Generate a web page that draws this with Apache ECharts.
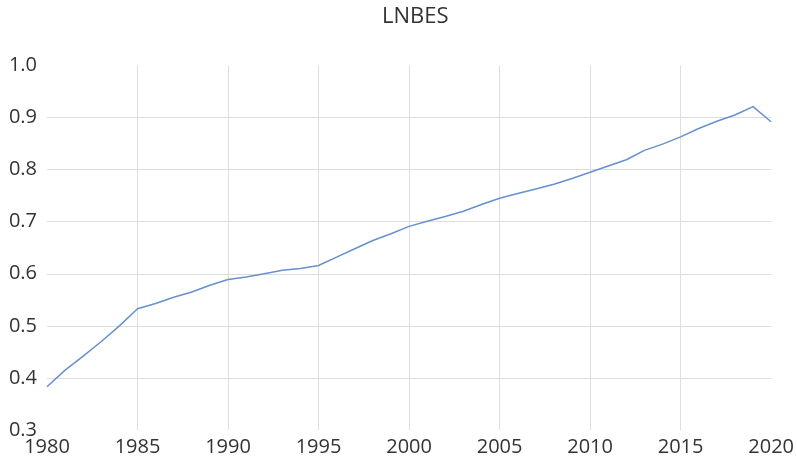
<!DOCTYPE html>
<html>
<head>
<meta charset="utf-8">
<script src="https://cdn.jsdelivr.net/npm/echarts@6/dist/echarts.min.js"></script>
<style>
  html, body { margin: 0; padding: 0; background: #fff; }
  #chart { width: 797px; height: 465px; }
</style>
</head>
<body>
<div id="chart"></div>
<script>
// LNBES, 1980-2020
const years = [];
for (let y = 1980; y <= 2020; y++) years.push(y);
const lnbes = [
  0.383, 0.415, 0.442, 0.470, 0.500, 0.533, 0.543, 0.555, 0.565, 0.578,
  0.589, 0.594, 0.600, 0.607, 0.610, 0.616, 0.632, 0.648, 0.664, 0.677,
  0.691, 0.701, 0.710, 0.720, 0.733, 0.745, 0.754, 0.763, 0.772, 0.783,
  0.795, 0.807, 0.819, 0.837, 0.849, 0.863, 0.879, 0.893, 0.905, 0.921,
  0.892
];

let chart = echarts.init(document.getElementById('chart'));
let option = {
  animation: false,
  title: {
    text: 'LNBES',
    left: 377,
    top: 1,
    textStyle: { fontFamily: 'Open Sans', fontSize: 22, fontWeight: 'normal', color: '#333333' }
  },
  grid: { left: 47, right: 23, top: 65.5, bottom: 35 },
  xAxis: {
    type: 'value',
    min: 1980,
    max: 2020,
    interval: 5,
    axisLine: { show: false },
    axisTick: { show: false },
    axisLabel: {
      fontFamily: 'Open Sans', fontSize: 20, color: '#333333', margin: 7,
      formatter: v => String(v)
    },
    splitLine: { show: true, showMinLine: false, showMaxLine: false, lineStyle: { color: '#dedede', width: 1 } }
  },
  yAxis: {
    type: 'value',
    min: 0.3,
    max: 1.0,
    interval: 0.1,
    axisLine: { show: false },
    axisTick: { show: false },
    axisLabel: {
      fontFamily: 'Open Sans', fontSize: 20, color: '#333333', margin: 10,
      formatter: v => v.toFixed(1)
    },
    splitLine: { showMinLine: false, showMaxLine: false, lineStyle: { color: '#dedede', width: 1 } }
  },
  series: [{
    type: 'line',
    data: years.map((y, i) => [y, lnbes[i]]),
    showSymbol: false,
    lineStyle: { color: '#6790cf', width: 1.5 },
    itemStyle: { color: '#6790cf' }
  }]
};
chart.setOption(option);
</script>
</body>
</html>
